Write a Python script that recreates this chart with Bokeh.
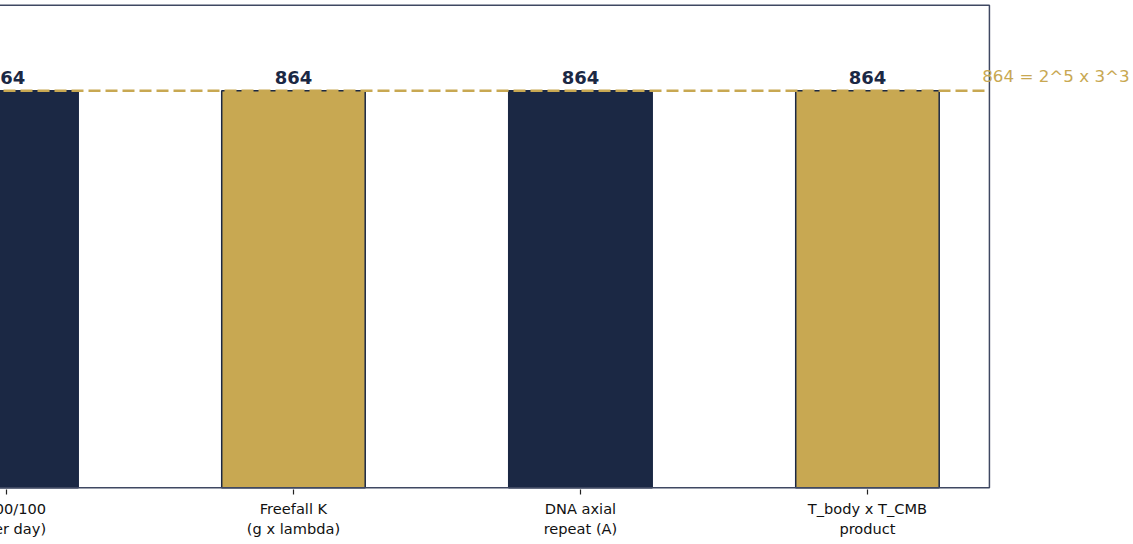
from bokeh.plotting import figure
from bokeh.models import Range1d, FixedTicker, Label, LabelSet, ColumnDataSource, BoxAnnotation
from bokeh.core.properties import value
from bokeh.embed import file_html
from bokeh.resources import INLINE

# ---- data ----
categories = [
    "86400/100\n(s per day)",
    "Freefall K\n(g x lambda)",
    "DNA axial\nrepeat (A)",
    "T_body x T_CMB\nproduct",
]
values = [864, 864, 864, 864]
value_labels = ["864", "864", "864", "864"]
reference_value = 864
reference_label = "864 = 2^5 x 3^3"

# axes box limits (data units)
box_x = (-0.425, 3.425)
box_y = (0, 1050)

NAVY = "#1b2844"
GOLD = "#c8a852"
FRAME = "#3f4862"
bar_colors = [NAVY, GOLD, NAVY, GOLD]

positions = list(range(len(categories)))

src = ColumnDataSource(dict(x=positions, top=values, color=bar_colors, label=value_labels))

p = figure(
    frame_width=1249, frame_height=486,
    x_range=Range1d(box_x[0], 3.927), y_range=Range1d(-4, 1054),
    output_backend="svg", toolbar_location=None,
    y_axis_location=None,
    min_border_left=0, min_border_top=0, min_border_right=0, min_border_bottom=0,
    background_fill_color="white", border_fill_color="white",
)
p.styles = {"margin-left": "-116px", "margin-top": "3px", "margin-bottom": "-30px"}

p.grid.visible = False
p.outline_line_color = None

p.vbar(x="x", top="top", width=0.5, fill_color="color", line_color=NAVY, line_width=1.5, source=src)

p.segment(x0=[box_x[0]], x1=[box_x[1]], y0=[reference_value], y1=[reference_value],
          line_color=GOLD, line_width=2.5, line_dash="12 5")

p.add_layout(BoxAnnotation(left=box_x[0], right=box_x[1], bottom=box_y[0], top=box_y[1],
                           fill_color=None, fill_alpha=0, line_color=FRAME, line_alpha=1.0,
                           line_width=1.5))

p.add_layout(LabelSet(x="x", y="top", text="label", source=src, text_align="center",
                      text_baseline="alphabetic", y_offset=7, text_font=value("DejaVu Sans"),
                      text_font_style="bold", text_font_size="18px", text_color=NAVY))

p.add_layout(Label(x=3.40, y=reference_value, text=reference_label, text_align="left",
                   text_baseline="alphabetic", y_offset=15, text_font="DejaVu Sans",
                   text_font_size="16.7px", text_color=GOLD))

ax = p.xaxis[0]
ax.ticker = FixedTicker(ticks=positions)
ax.major_label_overrides = {i: c for i, c in zip(positions, categories)}
ax.axis_line_color = None
ax.major_tick_line_color = "#222222"
ax.major_tick_line_width = 1.2
ax.major_tick_out = 5
ax.major_tick_in = 0
ax.minor_tick_line_color = None
ax.major_label_text_font = "DejaVu Sans"
ax.major_label_text_font_size = "14.6px"
ax.major_label_text_color = "#111111"
ax.major_label_standoff = 5

open("out.html", "w").write(file_html(p, INLINE))
